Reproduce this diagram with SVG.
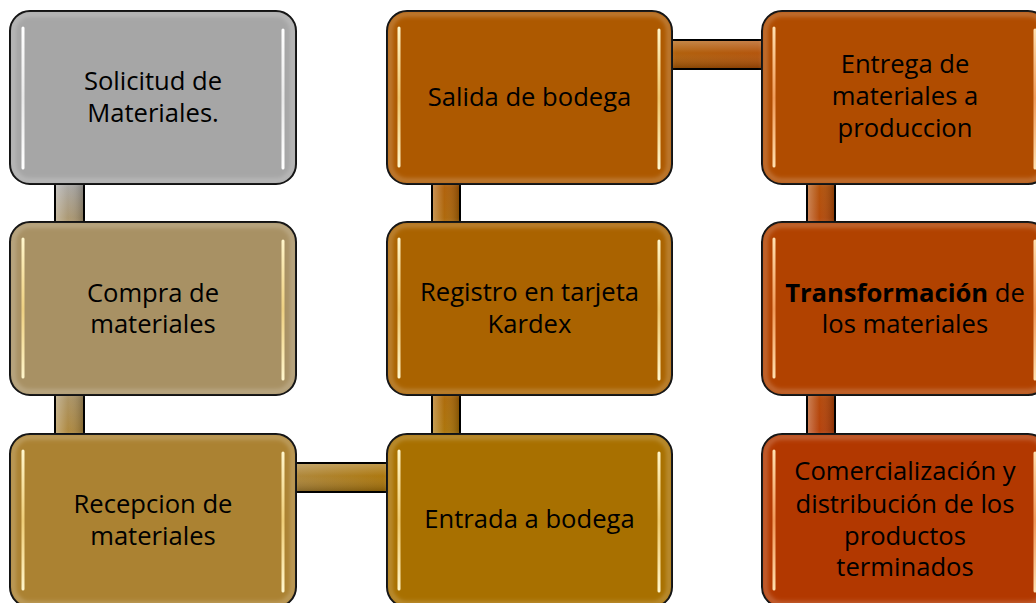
<svg xmlns="http://www.w3.org/2000/svg" width="1036" height="603" viewBox="0 0 1036 603">
<style>
.box{stroke:#000;stroke-width:2}
.glow{fill:none;stroke:#fff;stroke-opacity:0.22;stroke-width:5;filter:url(#soft)}
.hl{stroke-width:3;stroke-linecap:round;fill:none}
.lbl{font-family:"Open Sans",Lato,"Liberation Sans",sans-serif;font-size:25.6px;fill:#000;text-anchor:middle}
.bar{stroke:none}
.edge{stroke:#000;stroke-width:2;fill:none}
</style>
<defs>
<filter id="soft" x="-10%" y="-10%" width="120%" height="120%"><feGaussianBlur stdDeviation="2"/></filter>
<linearGradient id="shadeV" x1="0" y1="0" x2="1" y2="0">
<stop offset="0" stop-color="#fff" stop-opacity="0.35"/>
<stop offset="0.45" stop-color="#fff" stop-opacity="0.05"/>
<stop offset="1" stop-color="#000" stop-opacity="0.25"/>
</linearGradient>
<linearGradient id="shadeH" x1="0" y1="0" x2="0" y2="1">
<stop offset="0" stop-color="#fff" stop-opacity="0.3"/>
<stop offset="0.45" stop-color="#fff" stop-opacity="0.05"/>
<stop offset="1" stop-color="#000" stop-opacity="0.25"/>
</linearGradient>
<linearGradient id="hlW" x1="0" y1="0" x2="0" y2="1"><stop offset="0" stop-color="#fff"/><stop offset="0.5" stop-color="#fff" stop-opacity="0.75"/><stop offset="1" stop-color="#fff"/></linearGradient>
<linearGradient id="hlY" x1="0" y1="0" x2="0" y2="1"><stop offset="0" stop-color="#fff6cc"/><stop offset="0.5" stop-color="#ffe08a" stop-opacity="0.8"/><stop offset="1" stop-color="#fff6cc"/></linearGradient>
<linearGradient id="hlO" x1="0" y1="0" x2="0" y2="1"><stop offset="0" stop-color="#ffe0b0"/><stop offset="0.5" stop-color="#ffb070" stop-opacity="0.8"/><stop offset="1" stop-color="#ffe0b0"/></linearGradient>
<linearGradient id="c1" x1="0" y1="0" x2="0" y2="1"><stop offset="0" stop-color="#A6A6A6"/><stop offset="1" stop-color="#A89164"/></linearGradient>
<linearGradient id="c2" x1="0" y1="0" x2="0" y2="1"><stop offset="0" stop-color="#A89164"/><stop offset="1" stop-color="#AB8232"/></linearGradient>
<linearGradient id="c3" x1="0" y1="0" x2="1" y2="0"><stop offset="0" stop-color="#AB8232"/><stop offset="1" stop-color="#A87000"/></linearGradient>
<linearGradient id="c4" x1="0" y1="0" x2="0" y2="1"><stop offset="0" stop-color="#AA6300"/><stop offset="1" stop-color="#A87000"/></linearGradient>
<linearGradient id="c5" x1="0" y1="0" x2="0" y2="1"><stop offset="0" stop-color="#AD5900"/><stop offset="1" stop-color="#AA6300"/></linearGradient>
<linearGradient id="c6" x1="0" y1="0" x2="1" y2="0"><stop offset="0" stop-color="#AD5900"/><stop offset="1" stop-color="#B04C00"/></linearGradient>
<linearGradient id="c7" x1="0" y1="0" x2="0" y2="1"><stop offset="0" stop-color="#B04C00"/><stop offset="1" stop-color="#B14200"/></linearGradient>
<linearGradient id="c8" x1="0" y1="0" x2="0" y2="1"><stop offset="0" stop-color="#B14200"/><stop offset="1" stop-color="#B23800"/></linearGradient>
</defs>

<g id="connectors">
<g><rect class="bar" x="55" y="182" width="29" height="42" fill="url(#c1)"/><rect class="bar" x="55" y="182" width="29" height="42" fill="url(#shadeV)"/><path class="edge" d="M55 182V224M84 182V224"/></g>
<g><rect class="bar" x="55" y="393" width="29" height="43" fill="url(#c2)"/><rect class="bar" x="55" y="393" width="29" height="43" fill="url(#shadeV)"/><path class="edge" d="M55 393V436M84 393V436"/></g>
<g><rect class="bar" x="294" y="463" width="95" height="29" fill="url(#c3)"/><rect class="bar" x="294" y="463" width="95" height="29" fill="url(#shadeH)"/><path class="edge" d="M294 463H389M294 492H389"/></g>
<g><rect class="bar" x="432" y="393" width="28" height="43" fill="url(#c4)"/><rect class="bar" x="432" y="393" width="28" height="43" fill="url(#shadeV)"/><path class="edge" d="M432 393V436M460 393V436"/></g>
<g><rect class="bar" x="432" y="182" width="28" height="42" fill="url(#c5)"/><rect class="bar" x="432" y="182" width="28" height="42" fill="url(#shadeV)"/><path class="edge" d="M432 182V224M460 182V224"/></g>
<g><rect class="bar" x="670" y="40" width="94" height="29" fill="url(#c6)"/><rect class="bar" x="670" y="40" width="94" height="29" fill="url(#shadeH)"/><path class="edge" d="M670 40H764M670 69H764"/></g>
<g><rect class="bar" x="807" y="182" width="28" height="42" fill="url(#c7)"/><rect class="bar" x="807" y="182" width="28" height="42" fill="url(#shadeV)"/><path class="edge" d="M807 182V224M835 182V224"/></g>
<g><rect class="bar" x="807" y="393" width="28" height="43" fill="url(#c8)"/><rect class="bar" x="807" y="393" width="28" height="43" fill="url(#shadeV)"/><path class="edge" d="M807 393V436M835 393V436"/></g>
</g>

<g id="n1">
<rect class="box" x="10" y="11" width="286" height="173" rx="20" fill="#A6A6A6"/>
<rect class="glow" x="13" y="14" width="280" height="167" rx="17"/>
<path class="hl" d="M23 28V168M283 30V168" stroke="url(#hlW)"/>
<text class="lbl" x="153" y="90">Solicitud de</text>
<text class="lbl" x="153" y="122">Materiales.</text>
</g>

<g id="n2">
<rect class="box" x="10" y="222" width="286" height="173" rx="20" fill="#A89164"/>
<rect class="glow" x="13" y="225" width="280" height="167" rx="17"/>
<path class="hl" d="M23 239V377M283 241V379" stroke="url(#hlY)"/>
<text class="lbl" x="153" y="302">Compra de</text>
<text class="lbl" x="153" y="333">materiales</text>
</g>

<g id="n3">
<rect class="box" x="10" y="434" width="286" height="173" rx="20" fill="#AB8232"/>
<rect class="glow" x="13" y="437" width="280" height="167" rx="17"/>
<path class="hl" d="M23 451V589M283 453V591" stroke="url(#hlY)"/>
<text class="lbl" x="153" y="513">Recepcion de</text>
<text class="lbl" x="153" y="545">materiales</text>
</g>

<g id="n4">
<rect class="box" x="387" y="434" width="285" height="173" rx="20" fill="#A87000"/>
<rect class="glow" x="390" y="437" width="279" height="167" rx="17"/>
<path class="hl" d="M399 451V589M659 453V591" stroke="url(#hlY)"/>
<text class="lbl" x="529.5" y="528">Entrada a bodega</text>
</g>

<g id="n5">
<rect class="box" x="387" y="222" width="285" height="173" rx="20" fill="#AA6300"/>
<rect class="glow" x="390" y="225" width="279" height="167" rx="17"/>
<path class="hl" d="M399 239V377M659 241V379" stroke="url(#hlY)"/>
<text class="lbl" x="529.5" y="301">Registro en tarjeta</text>
<text class="lbl" x="529.5" y="333">Kardex</text>
</g>

<g id="n6">
<rect class="box" x="387" y="11" width="285" height="173" rx="20" fill="#AD5900"/>
<rect class="glow" x="390" y="14" width="279" height="167" rx="17"/>
<path class="hl" d="M399 28V166M659 30V168" stroke="url(#hlY)"/>
<text class="lbl" x="529.5" y="106">Salida de bodega</text>
</g>

<g id="n7">
<rect class="box" x="762" y="11" width="286" height="173" rx="20" fill="#B04C00"/>
<rect class="glow" x="765" y="14" width="280" height="167" rx="17"/>
<path class="hl" d="M774 28V166M1035 30V168" stroke="url(#hlO)"/>
<text class="lbl" x="905" y="73">Entrega de</text>
<text class="lbl" x="905" y="105">materiales a</text>
<text class="lbl" x="905" y="137">produccion</text>
</g>

<g id="n8">
<rect class="box" x="762" y="222" width="286" height="173" rx="20" fill="#B14200"/>
<rect class="glow" x="765" y="225" width="280" height="167" rx="17"/>
<path class="hl" d="M774 239V377M1035 241V379" stroke="url(#hlO)"/>
<text class="lbl" x="905" y="302"><tspan font-weight="bold">Transformación</tspan> de</text>
<text class="lbl" x="905" y="333">los materiales</text>
</g>

<g id="n9">
<rect class="box" x="762" y="434" width="286" height="173" rx="20" fill="#B23800"/>
<rect class="glow" x="765" y="437" width="280" height="167" rx="17"/>
<path class="hl" d="M774 451V589M1035 453V591" stroke="url(#hlO)"/>
<text class="lbl" x="905" y="480">Comercialización y</text>
<text class="lbl" x="905" y="513">distribución de los</text>
<text class="lbl" x="905" y="545">productos</text>
<text class="lbl" x="905" y="576">terminados</text>
</g>
</svg>
